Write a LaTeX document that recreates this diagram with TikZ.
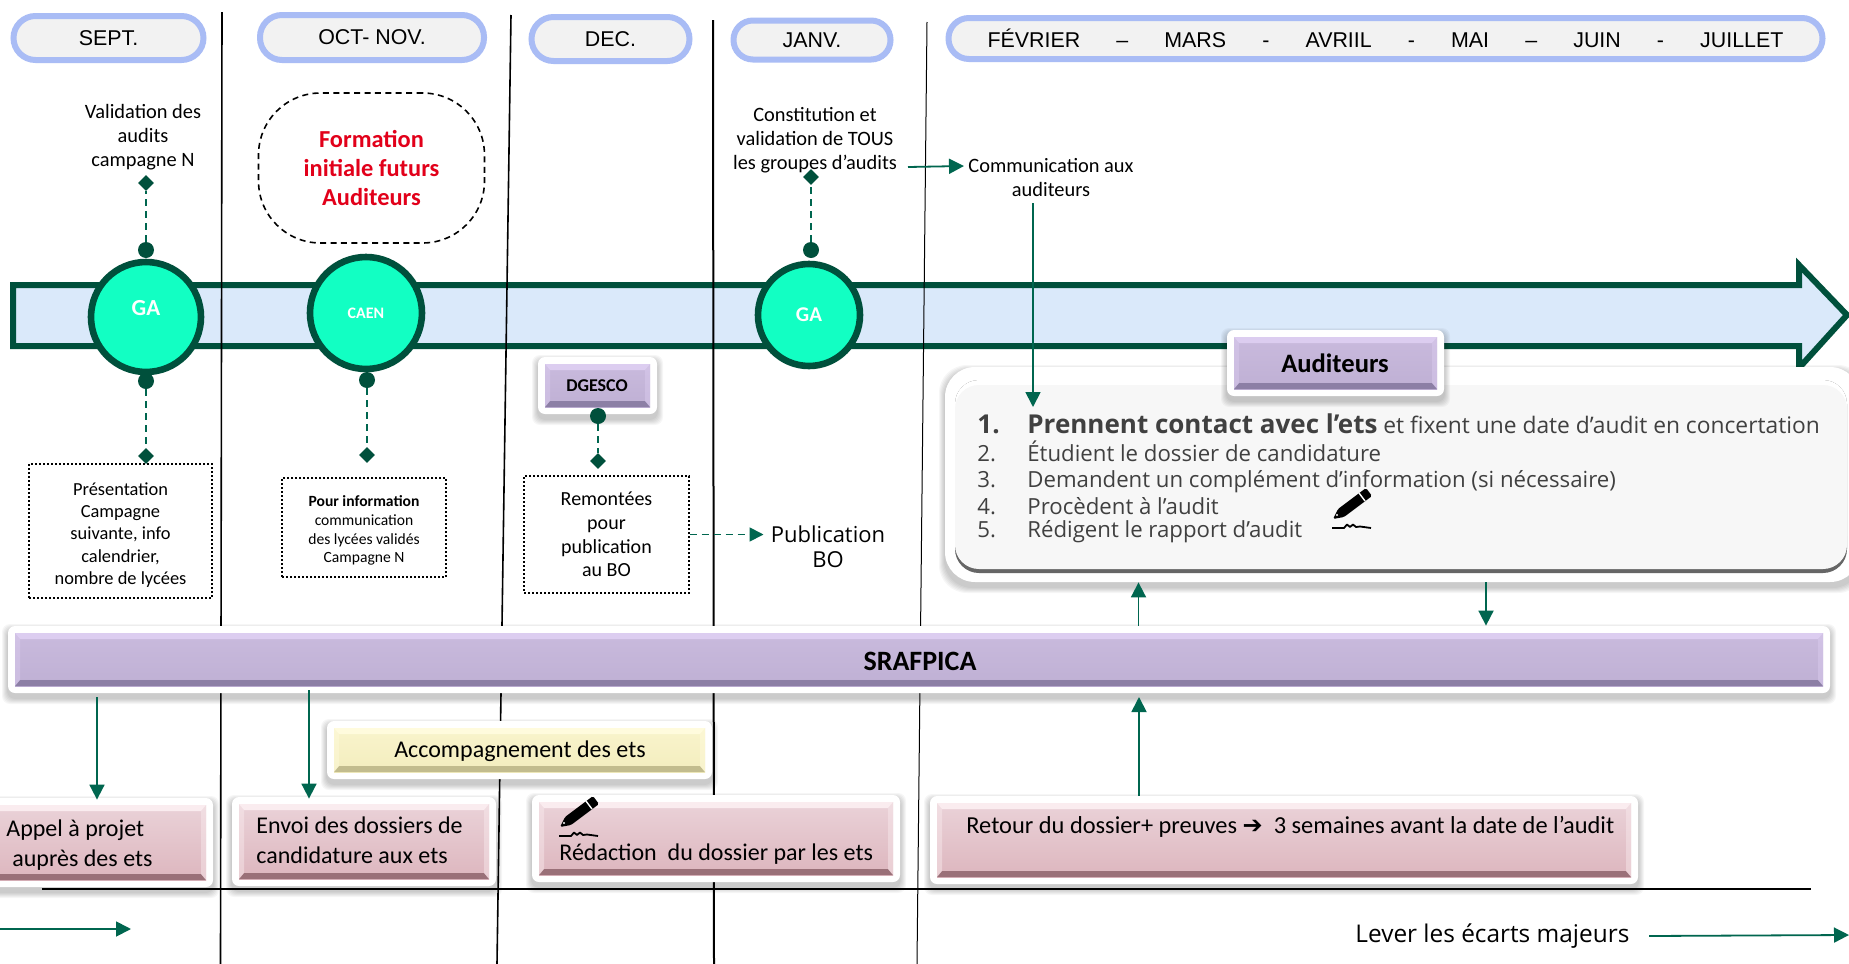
\documentclass[tikz,border=0pt]{standalone}
\usepackage{fontspec}
\setmainfont{Carlito}
\newfontfamily\fHead{Liberation Sans}
\newfontfamily\fMar{Open Sans}
\newfontfamily\fArr{DejaVu Sans}
\usetikzlibrary{arrows.meta,shapes.geometric,calc}
\definecolor{dkgreen}{HTML}{00503C}
\definecolor{arrowgreen}{HTML}{00664F}
\definecolor{mint}{HTML}{12FFC3}
\definecolor{pillblue}{HTML}{A9BCF5}
\definecolor{pillfill}{HTML}{F2F2F2}
\definecolor{barfill}{HTML}{DAE9FA}
\definecolor{redtxt}{HTML}{E2001A}
\definecolor{listgray}{HTML}{404040}
\definecolor{purA}{HTML}{DCCDF0}
\definecolor{purB}{HTML}{C9BADD}
\definecolor{purC}{HTML}{BFB0D4}
\definecolor{purD}{HTML}{8C7FA5}
\definecolor{pinkA}{HTML}{FAECEF}
\definecolor{pinkB}{HTML}{EAD2D8}
\definecolor{pinkC}{HTML}{DDB6BE}
\definecolor{pinkD}{HTML}{9A7078}
\definecolor{yelA}{HTML}{FFFBDD}
\definecolor{yelB}{HTML}{F9F4CC}
\definecolor{yelC}{HTML}{F3EDBE}
\definecolor{yelD}{HTML}{C2BC8E}
\tikzset{
  x=0.5pt,y=-0.5pt,
  pill/.style={draw=pillblue,fill=pillfill,line width=3pt,inner sep=0pt,font=\fHead\fontsize{10.7}{12}\selectfont},
  vline/.style={draw=black,line width=0.8pt},
  halo/.style={fill=white,draw=none,rounded corners=3.5pt,inner sep=0pt},
  conn/.style={draw=arrowgreen,line width=0.9pt,-{Triangle[length=7.5pt,width=7.5pt]}},
  dashconn/.style={draw=arrowgreen,line width=0.9pt,dash pattern=on 3.5pt off 2.5pt},
  dot/.style={circle,fill=dkgreen,minimum size=8pt,inner sep=0pt},
  diam/.style={diamond,fill=dkgreen,minimum size=8pt,inner sep=0pt},
  ring/.style={circle,draw=dkgreen,fill=mint,line width=3.3pt,inner sep=0pt,text=white,font=\bfseries},
  dotbox/.style={draw=black,line width=0.7pt,dash pattern=on 1pt off 1pt,inner sep=0pt},
  lbl/.style={align=center,inner sep=0pt,font=\fontsize{10.2}{12}\selectfont},
  listline/.style={anchor=base west,inner sep=0pt,text=listgray,font=\fMar\fontsize{11.1}{13}\selectfont},
}
\newcommand\softshadow[6]{%
  \foreach \k in {1,...,6}
    \fill[black,opacity=.035,rounded corners=#6] ({#1-\k},{#2+4-\k}) rectangle ({#3+\k},{#4+5+\k});
}
\newcommand\gbox[9]{%
  \softshadow{#2}{#3}{#4}{#5}{}{4pt}%
  \node[halo,minimum width={(#4-(#2))*0.5pt},minimum height={(#5-(#3))*0.5pt}] (#1) at ({(#2+#4)/2},{(#3+#5)/2}) {};
  \shade[top color=#7,bottom color=#8] ({#2+7},{#3+7}) rectangle ({#4-7},{#5-7});
  \fill[#6] ({#2+7},{#3+7}) -- ({#4-7},{#3+7}) -- ({#4-12},{#3+13}) -- ({#2+12},{#3+13}) -- cycle;
  \fill[#9] ({#2+7},{#5-7}) -- ({#4-7},{#5-7}) -- ({#4-12},{#5-13}) -- ({#2+12},{#5-13}) -- cycle;
  \fill[#6,opacity=.45] ({#2+7},{#3+7}) -- ({#2+12},{#3+13}) -- ({#2+12},{#5-13}) -- ({#2+7},{#5-7}) -- cycle;
  \fill[#6,opacity=.45] ({#4-7},{#3+7}) -- ({#4-12},{#3+13}) -- ({#4-12},{#5-13}) -- ({#4-7},{#5-7}) -- cycle;
}
\newcommand\penicon[2]{%
  \begin{scope}[shift={(#1,#2)}]
    \fill[black,rounded corners=0.8pt] (-18,9) -- (-13,-1) -- (15,-22) -- (21,-14) -- (-7,7) -- cycle;
    \draw[white,line width=0.7pt] (8,-17) -- (14,-9);
    \fill[white] (-14,5) circle (1.2);
    \draw[black,line width=0.9pt,line join=round] (-19,18) -- (-7,18) -- (-4,14.5) -- (-1,17) -- (2,14.5) -- (5,17) -- (9,16.5) -- (20,18);
  \end{scope}%
}
\begin{document}
\begin{tikzpicture}
\useasboundingbox (0,0) rectangle (1849,964);
\fill[white] (0,0) rectangle (1849,964);
% big timeline arrow
\draw[draw=dkgreen,fill=barfill,line width=3pt,miter limit=10] (13,285) -- (1799,285) -- (1799,265) -- (1847,315) -- (1799,368) -- (1799,346) -- (13,346) -- cycle;
% month separators
\coordinate (v1t) at (222,12);  \coordinate (v1b) at (220.5,964);
\coordinate (v2t) at (511,15);  \coordinate (v2b) at (497,964);
\coordinate (v3t) at (713,20);  \coordinate (v3b) at (714,964);
\coordinate (v4t) at (927,22);  \coordinate (v4b) at (917,964);
\draw[vline] (v1t) -- (v1b);
\draw[vline] (v2t) -- (v2b);
\draw[vline,line width=1pt] (v3t) -- (v3b);
\draw[vline,line width=0.5pt] (v4t) -- (v4b);
\coordinate (hl) at (42,889); \coordinate (hr) at (1811,889);
\draw[vline,line width=1pt] (hl) -- (hr);
% headers
\node[pill,rounded corners=11pt,minimum width=95pt,minimum height=22pt] (sept) at (108.5,38) {SEPT.};
\node[pill,rounded corners=11pt,minimum width=112pt,minimum height=22.5pt] (oct) at (372,37.5) {OCT- NOV.};
\node[pill,rounded corners=11pt,minimum width=79pt,minimum height=22pt] (dec) at (610.5,39) {DEC.};
\node[pill,rounded corners=9.7pt,minimum width=78.5pt,minimum height=19.5pt] (janv) at (812,40) {JANV.};
\node[pill,rounded corners=10.2pt,minimum width=437pt,minimum height=20.5pt] (feb) at (1385.5,38.5) {\makebox[398pt][s]{FÉVRIER\hfill –\hfill MARS\hfill -\hfill AVRIIL\hfill -\hfill MAI\hfill –\hfill JUIN\hfill -\hfill JUILLET}};
% formation
\node[draw=black,line width=0.8pt,dash pattern=on 3pt off 2.2pt,rounded corners=31pt,minimum width=113pt,minimum height=75pt,inner sep=0pt,align=center,text=redtxt,font=\bfseries\fontsize{12.2}{14.7}\selectfont] (form) at (371.5,168) {Formation\\initiale futurs\\Auditeurs};
% rings
\node[ring,minimum size=55pt,font=\bfseries\fontsize{11.5}{13}\selectfont] (ga1) at (146,317) {\raisebox{9pt}{GA}};
\node[ring,minimum size=56pt,font=\bfseries\fontsize{8}{10}\selectfont] (caen) at (366,313) {\raisebox{-4pt}{CAEN}};
\node[ring,minimum size=51pt,font=\bfseries\fontsize{10.5}{12}\selectfont] (ga2) at (809,315) {GA};
% dashed stems
\node[dot] (d1) at (146,250) {}; \node[diam] (m1) at (146,183) {};
\node[dot] (d2) at (146,381) {}; \node[diam] (m2) at (146,456) {};
\node[dot] (d3) at (367,380) {}; \node[diam] (m3) at (367,455) {};
\node[dot] (d4) at (811,250) {}; \node[diam] (m4) at (811,177) {};
\draw[dashconn] (d1) -- (m1);
\draw[dashconn] (d2) -- (m2);
\draw[dashconn] (d3) -- (m3);
\draw[dashconn] (d4) -- (m4);
% upper labels
\node[lbl] (val) at (143,137.5) {Validation des\\audits\\campagne N};
\node[lbl] (const) at (815,140) {Constitution et\\validation de TOUS\\les groupes d’audits};
\node[lbl] (comm) at (1051,178) {Communication aux\\auditeurs};
\coordinate (c1s) at (908,167); \coordinate (c1e) at (964,166);
\draw[conn] (c1s) -- (c1e);
% dotted boxes
\node[dotbox,fill=white,minimum width=91.5pt,minimum height=67pt,align=center,font=\fontsize{9.2}{11.1}\selectfont] (pres) at (120.5,531) {\rule{0pt}{10.4pt}Présentation\\Campagne\\suivante, info\\calendrier,\\nombre de lycées};
\node[dotbox,fill=white,minimum width=82pt,minimum height=49.5pt,align=center,font=\fontsize{7.8}{9.4}\selectfont] (info) at (364,527.5) {\rule{0pt}{8.6pt}\textbf{Pour information}\\communication\\des lycées validés\\Campagne N};
\node[dotbox,fill=white,minimum width=82.5pt,minimum height=58.5pt,align=center,font=\fontsize{10}{11.8}\selectfont] (rem) at (606.5,534.5) {Remontées\\pour\\publication\\au BO};
\node[inner sep=0pt,align=center,font=\fMar\fontsize{11}{12.4}\selectfont] (pub) at (828,547) {Publication\\BO};
\draw[dashconn,-{Triangle[length=7pt,width=7pt]}] (rem.east) -- ([xshift=-3.5pt]rem.east -| pub.west);
% DGESCO
\gbox{dgesco}{538}{357}{657}{414}{purA}{purB}{purC}{purD}
\node[inner sep=0pt,font=\bfseries\fontsize{9}{10}\selectfont] (dgt) at (597,385.5) {DGESCO};
\node[dot] (d5) at (598,416) {}; \node[diam] (m5) at (598,461) {};
\draw[dashconn] (d5) -- (m5);
% card
\softshadow{945}{367}{1860}{582}{}{14pt}
\node[fill=white,rounded corners=15pt,minimum width=457.5pt,minimum height=107.5pt,inner sep=0pt] (card) at (1402.5,474.5) {};
\fill[black!60,rounded corners=12pt] (955,380) rectangle (1847,573);
\fill[white,rounded corners=12pt] (955,380) rectangle (1847,560);
\fill[gray!6,rounded corners=12pt] (955,385) rectangle (1847,569);
\node[listline] (li1) at (977,433) {\makebox[25pt][l]{\textbf{\fontsize{13}{14}\selectfont 1.}}\textbf{\fontsize{13}{14}\selectfont Prennent contact avec l’ets} {\fontsize{11.4}{13}\selectfont et fixent une date d’audit en concertation}};
\node[listline] (li2) at (977,461) {\makebox[25pt][l]{2.}Étudient le dossier de candidature};
\node[listline] (li3) at (977,487) {\makebox[25pt][l]{3.}Demandent un complément d’information (si nécessaire)};
\node[listline] (li4) at (977,514) {\makebox[25pt][l]{4.}Procèdent à l’audit};
\node[listline] (li5) at (977,537) {\makebox[25pt][l]{5.}Rédigent le rapport d’audit};
\penicon{1351}{510}
% Auditeurs
\gbox{aud}{1227}{330}{1444}{396}{purA}{purB}{purC}{purD}
\node[inner sep=0pt,font=\bfseries\fontsize{13.3}{14}\selectfont] (audt) at (1335,363) {Auditeurs};
\coordinate (c2s) at (1033,203); \coordinate (c2e) at (1033,407);
\draw[conn] (c2s) -- (c2e);
% SRAFPICA
\gbox{sraf}{8}{626}{1830}{693}{purA}{purB}{purC}{purD}
\node[inner sep=0pt,font=\bfseries\fontsize{14}{16}\selectfont] (saft) at (920,661) {SRAFPICA};
\coordinate (a1) at (1138.5,631); \coordinate (a2) at (1486,582);
\draw[conn] (sraf.north -| a1) -- (card.south -| a1);
\draw[conn] (a2) -- (sraf.north -| a2);
% lower boxes
\gbox{acc}{327}{721}{712}{779}{yelA}{yelB}{yelC}{yelD}
\node[inner sep=0pt,font=\fontsize{12}{14}\selectfont] (acct) at (520,751) {Accompagnement des ets};
\gbox{appel}{-20}{798}{213}{887}{pinkA}{pinkB}{pinkC}{pinkD}
\node[inner sep=0pt,align=left,anchor=north west,font=\fontsize{12}{15.3}\selectfont] (appt) at (6,819) {Appel à projet\\\hspace*{3pt}auprès des ets};
\gbox{envoi}{232}{797}{496}{886}{pinkA}{pinkB}{pinkC}{pinkD}
\node[inner sep=0pt,align=left,anchor=north west,font=\fontsize{12}{15.3}\selectfont] (envt) at (256,816) {Envoi des dossiers de\\candidature aux ets};
\gbox{redac}{532}{795}{900}{882}{pinkA}{pinkB}{pinkC}{pinkD}
\penicon{578}{818}
\node[inner sep=0pt,anchor=west,font=\fontsize{12}{14}\selectfont] (redt) at (559,854) {Rédaction\ \ du dossier par les ets};
\gbox{retour}{930}{796}{1638}{884}{pinkA}{pinkB}{pinkC}{pinkD}
\node[inner sep=0pt,anchor=west,font=\fontsize{12.2}{14}\selectfont] (rett) at (966,827) {Retour du dossier+ preuves {\fArr\fontsize{12}{14}\selectfont ➔} \ 3 semaines avant la date de l’audit};
% connectors to lower boxes
\coordinate (b1) at (97,697); \coordinate (b2) at (309,690);
\draw[conn] (b1) -- ([yshift=-1pt]appel.north -| b1);
\draw[conn] (b2) -- ([yshift=-1pt]envoi.north -| b2);
\coordinate (b3) at (1139,697);
\draw[conn] (retour.north -| b3) -- (b3);
% bottom line
\coordinate (e1) at (0,929); \coordinate (e2) at (131,929);
\draw[conn] (e1) -- (e2);
\node[inner sep=0pt,anchor=west,font=\fMar\fontsize{12.2}{14}\selectfont] (lev) at (1355,936) {Lever les écarts majeurs};
\coordinate (e3) at (1649,936); \coordinate (e4) at (1849,935);
\draw[conn] (e3) -- (e4);
\end{tikzpicture}
\end{document}
